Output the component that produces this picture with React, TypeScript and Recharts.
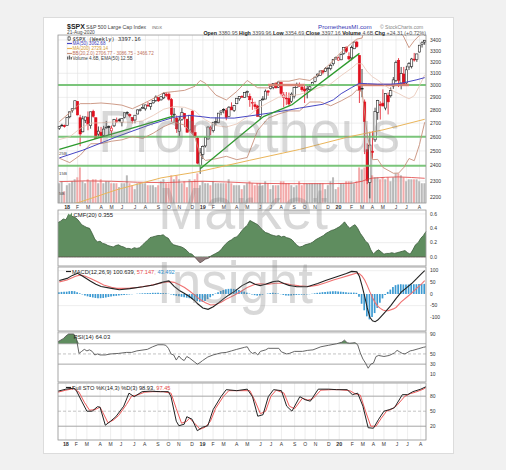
import React from 'react';
import { ComposedChart, Bar, Line, Area, XAxis, YAxis, CartesianGrid, ReferenceLine, Cell } from 'recharts';

// ---------------- DATA (weekly, 15-Dec-2017 .. 21-Aug-2020) ----------------
// [open, high, low, close]
const ohlc: number[][] = [
  [2660,2680,2650,2675],[2685,2695,2676,2683],[2683,2689,2667,2674],
  [2684,2743,2682,2743],[2748,2787,2737,2786],[2798,2810,2780,2810],[2809,2873,2808,2873],
  [2867,2870,2759,2762],[2741,2763,2533,2620],[2636,2755,2632,2732],[2722,2748,2701,2747],
  [2745,2789,2647,2691],[2681,2787,2659,2786],[2790,2802,2742,2752],[2741,2741,2585,2588],[2619,2675,2594,2641],
  [2633,2672,2553,2604],[2611,2680,2605,2656],[2670,2717,2660,2670],[2675,2683,2612,2670],
  [2643,2682,2594,2663],[2680,2732,2671,2728],[2718,2742,2702,2713],[2725,2736,2708,2721],
  [2705,2736,2676,2735],[2742,2779,2736,2779],[2781,2790,2761,2780],[2765,2774,2743,2755],[2742,2743,2698,2718],
  [2724,2761,2699,2760],[2769,2804,2768,2801],[2797,2814,2789,2802],[2811,2848,2809,2819],
  [2809,2841,2795,2840],[2838,2862,2825,2833],[2827,2855,2802,2850],[2856,2876,2850,2875],[2876,2916,2864,2902],
  [2898,2898,2864,2872],[2880,2908,2874,2905],[2896,2941,2886,2930],[2926,2940,2903,2914],
  [2926,2939,2874,2885],[2882,2894,2710,2767],[2763,2816,2710,2768],[2737,2758,2628,2658],
  [2640,2756,2603,2723],[2726,2815,2717,2781],[2773,2775,2670,2736],[2730,2730,2631,2633],[2649,2760,2649,2760],
  [2790,2800,2621,2633],[2630,2685,2593,2600],[2590,2601,2409,2417],[2400,2520,2346,2486],
  [2476,2538,2444,2532],[2535,2598,2524,2596],[2584,2675,2580,2671],[2657,2681,2612,2665],
  [2644,2708,2631,2707],[2712,2744,2681,2708],[2703,2776,2700,2776],[2780,2795,2760,2793],
  [2805,2814,2774,2804],[2795,2815,2722,2743],[2749,2830,2747,2822],[2823,2860,2800,2801],[2797,2836,2785,2834],
  [2849,2893,2848,2893],[2888,2910,2872,2907],[2908,2916,2898,2905],[2898,2940,2897,2940],
  [2940,2955,2901,2946],[2908,2931,2825,2881],[2859,2892,2801,2860],[2841,2865,2805,2826],[2830,2840,2750,2752],
  [2751,2874,2728,2873],[2886,2910,2873,2887],[2886,2964,2887,2950],[2952,2958,2913,2942],
  [2971,2996,2964,2990],[2980,3014,2966,3014],[3017,3018,2975,2977],[2981,3028,2977,3026],
  [3023,3027,2915,2932],[2898,2943,2822,2919],[2894,2943,2840,2889],[2891,2939,2834,2847],[2866,2940,2856,2926],
  [2910,2985,2891,2979],[2980,3021,2976,3007],[3001,3022,2988,2992],[2984,3002,2946,2962],
  [2967,2993,2855,2952],[2961,2993,2892,2970],[2966,3008,2953,2986],[2996,3027,2992,3023],
  [3032,3067,3023,3067],[3078,3097,3066,3093],[3081,3121,3078,3120],[3123,3128,3091,3110],[3117,3154,3114,3141],
  [3143,3150,3070,3146],[3141,3183,3125,3169],[3183,3226,3166,3221],[3225,3247,3223,3240],
  [3215,3247,3212,3235],[3218,3275,3215,3265],[3274,3330,3263,3330],[3333,3338,3280,3295],[3248,3285,3214,3226],
  [3235,3347,3214,3328],[3318,3385,3315,3380],[3380,3393,3328,3338],[3257,3260,2855,2954],
  [2974,3137,2901,2972],[2863,2883,2478,2711],[2508,2553,2280,2305],[2290,2637,2192,2541],
  [2498,2641,2447,2489],[2578,2818,2563,2790],[2782,2880,2725,2875],[2845,2868,2727,2837],
  [2854,2965,2831,2831],[2815,2931,2798,2930],[2915,2939,2766,2864],[2913,2981,2898,2955],[2992,3068,2969,3044],
  [3038,3211,3025,3194],[3213,3233,2984,3041],[3018,3155,2965,3098],[3094,3155,3003,3009],
  [3018,3165,3000,3130],[3155,3197,3128,3185],[3159,3235,3142,3225],[3224,3280,3202,3216],[3219,3272,3200,3271],
  [3288,3352,3284,3351],[3356,3387,3329,3373],[3380,3400,3355,3397],
];

// weekly volume (billions)
const volume: number[] = [
  10,11,6,
  9,10,11,12,13,18,11,10,12,11,12,12,10,12,10,11,11,10,10,10,8,10,10,14,10,9,7,10,10,10,10,9,9,9,8,9,11,12,10,10,14,12,14,12,10,11,8,12,11,12,15,9,
  11,10,10,9,11,10,10,10,10,10,12,10,9,9,9,7,9,10,11,10,9,10,10,9,11,10,7,9,9,9,11,11,10,10,9,8,9,11,9,10,10,10,10,10,10,10,10,7,9,11,13,7,
  8,10,10,11,11,11,10,11,18,17,18,19,16,14,13,13,12,13,12,13,11,13,15,15,14,13,11,12,12,12,12,11,10,10,
];

// [week index, value] readings of the overlay lines
const volEma: number[][] = [[0,10.8],[10,11.2],[20,11.0],[30,10.5],[40,10.3],[50,10.8],[55,11.0],[65,10.6],[75,10.0],[85,9.8],[95,9.8],[105,9.8],[112,10.0],[116,11.0],[118,12.0],[120,12.6],[125,13.0],[130,13.2],[135,12.9],[140,12.5]];
const ma50: number[][] = [[0,2452],[9,2505],[22,2600],[35,2690],[44,2745],[50,2758],[55,2748],[58,2740],[67,2738],[75,2760],[80,2775],[88,2800],[92,2815],[101,2845],[105,2880],[108,2930],[112,2980],[115,3015],[118,3012],[122,3008],[127,3008],[131,3015],[134,3030],[137,3045],[140,3063]];
const ma200: number[][] = [[0,2140],[8,2170],[22,2245],[39,2320],[54,2362],[73,2436],[92,2510],[111,2600],[124,2650],[140,2729]];
const bbUpper: number[][] = [[0,2710],[4,2780],[8,2850],[12,2850],[16,2855],[20,2848],[24,2838],[28,2810],[32,2848],[36,2890],[40,2938],[44,2947],[48,2957],[52,2991],[54,3039],[56,3015],[60,2918],[64,2879],[68,2948],[72,3039],[76,2978],[80,2977],[84,3033],[88,3033],[92,3053],[96,3039],[100,3103],[104,3189],[108,3288],[112,3370],[114,3408],[116,3418],[118,3614],[120,3700],[122,3642],[124,3628],[128,3550],[130,3511],[132,3428],[134,3328],[136,3393],[138,3444],[140,3467]];
const bbMid: number[][] = [[0,2580],[4,2600],[8,2660],[12,2700],[16,2703],[20,2708],[24,2708],[28,2706],[32,2718],[36,2758],[40,2806],[44,2827],[48,2821],[52,2793],[54,2755],[56,2725],[60,2682],[64,2671],[68,2694],[72,2747],[76,2812],[80,2857],[84,2901],[88,2913],[92,2923],[96,2951],[100,2983],[104,3011],[108,3080],[112,3144],[114,3184],[116,3182],[118,3114],[120,3070],[122,3042],[124,3008],[128,2950],[130,2931],[132,2908],[134,2888],[136,2913],[138,2994],[140,3087]];
const bbLower: number[][] = [[0,2450],[4,2420],[8,2470],[12,2550],[16,2551],[20,2568],[24,2578],[28,2602],[32,2588],[36,2626],[40,2674],[44,2707],[48,2685],[52,2595],[54,2471],[56,2435],[60,2446],[64,2463],[68,2440],[72,2455],[76,2646],[80,2737],[84,2769],[88,2793],[92,2793],[96,2863],[100,2863],[104,2833],[108,2872],[112,2918],[114,2960],[116,2946],[118,2614],[120,2440],[122,2442],[124,2388],[128,2350],[130,2351],[132,2388],[134,2448],[136,2433],[138,2544],[140,2707]];

const cmf: number[] = [
  0.48,0.50,0.53,0.52,0.585,0.57,0.56,0.54,0.50,0.45,0.43,0.41,0.40,0.33,0.25,0.21,0.22,0.19,0.18,0.16,
  0.15,0.14,0.16,0.17,0.15,0.14,0.12,0.12,0.11,0.13,0.12,0.13,0.16,0.20,0.23,0.27,0.28,0.29,0.30,0.30,
  0.31,0.28,0.26,0.20,0.17,0.16,0.15,0.14,0.12,0.09,0.05,0.04,0.00,-0.04,-0.08,-0.06,-0.03,-0.02,0.01,0.03,
  0.05,0.07,0.10,0.15,0.19,0.22,0.24,0.27,0.28,0.32,0.37,0.41,0.44,0.51,0.49,0.47,0.45,0.41,0.37,0.34,
  0.33,0.31,0.30,0.29,0.30,0.28,0.29,0.27,0.26,0.24,0.20,0.16,0.14,0.15,0.17,0.18,0.19,0.21,0.24,0.26,
  0.28,0.30,0.33,0.35,0.37,0.38,0.40,0.42,0.45,0.49,0.44,0.40,0.43,0.45,0.40,0.33,0.28,0.22,0.19,0.10,
  0.04,0.08,0.10,0.07,0.04,0.05,0.05,0.06,0.05,0.06,0.07,0.08,0.09,0.06,0.04,0.10,0.17,0.20,0.26,0.30,0.355,
];

const macdLine: number[][] = [[0,58],[3,67],[5,80],[7,89],[9,76],[12,55],[14,42],[16,32],[20,24],[23,18],[27,23],[32,31],[36,39],[40,52],[42,56],[44,33],[46,15],[48,2],[50,-12],[52,-30],[53,-42],[55,-60],[57,-66],[59,-55],[61,-38],[63,-20],[65,-4],[67,10],[70,36],[73,53],[75,42],[77,36],[79,42],[82,53],[84,56],[86,45],[88,37],[91,31],[95,31],[99,45],[102,58],[106,73],[110,88],[112,97],[114,95],[115,75],[116,35],[117,-10],[118,-60],[119,-100],[120,-115],[121,-119],[122,-112],[123,-100],[125,-76],[127,-50],[129,-20],[131,8],[133,26],[135,45],[137,67],[139,90],[140,100.6]];
const macdSignal: number[][] = [[0,52],[3,60],[6,75],[8,82],[10,76],[12,67],[15,50],[17,39],[20,29],[22,24],[26,24],[30,28],[35,37],[39,47],[42,53],[44,50],[46,40],[48,28],[50,12],[52,-6],[54,-24],[56,-38],[58,-47],[60,-45],[62,-35],[64,-22],[67,-5],[70,14],[72,28],[75,42],[77,44],[80,42],[83,46],[86,46],[89,40],[92,35],[96,32],[99,38],[102,48],[105,60],[108,70],[111,80],[114,90],[115,87],[116,77],[117,60],[118,36],[119,9],[120,-16],[121,-37],[122,-52],[123,-62],[124,-69],[125,-72],[126,-72],[128,-64],[129,-58],[131,-34],[133,-15],[135,4],[137,25],[139,46],[140,57.1]];
const macdHist: number[] = [
  8,9,10,10,12,13,12,8,3,-2,
  -6,-10,-13,-15,-17,-18,-18,-17,-15,-13,
  -11,-9,-8,-6,-5,-4,-3,-2,-1,0,
  1,2,3,3,4,4,5,5,5,4,
  4,3,1,-2,-5,-8,-10,-12,-14,-16,
  -18,-22,-26,-30,-33,-34,-30,-22,-14,-6,
  2,8,13,17,20,22,23,22,20,17,
  14,10,6,2,-2,-5,-7,-6,-3,0,
  2,4,5,4,2,-1,-4,-6,-7,-6,
  -5,-4,-3,-3,-3,-2,-1,1,3,5,
  6,8,9,10,11,12,12,11,10,9,
  8,6,6,6,5,-12,-42,-70,-96,-109,
  -99,-82,-60,-38,-19,-4,9,19,30,38,
  41,42,41,41,41,41,42,42,43,43,
  43.5,
];

const rsi: number[][] = [[0,74],[2,80],[3,85],[4,89],[6,89],[7,80],[8,51],[9,55],[10,59],[11,56],[12,58],[13,55],[14,48],[15,50],[16,48],[18,48],[20,50],[23,51],[26,53],[28,53],[30,56],[34,59],[36,64],[38,68],[40,68],[41,67],[42,61],[43,50],[44,48],[45,38],[46,46],[47,40],[48,37],[49,45],[50,42],[51,38],[52,34],[53,30],[54,33],[55,37],[57,44],[59,48],[62,52],[64,53],[66,56],[68,59],[71,63],[72,64],[73,55],[74,51],[75,53],[76,48],[77,55],[79,58],[80,61],[84,61],[85,54],[86,52],[87,50],[88,51],[90,55],[93,55],[95,57],[97,58],[100,64],[103,67],[106,70],[108,73],[109,77],[110,72],[111,71],[113,72],[114,68],[115,52],[116,40],[117,32],[118,22],[119,30],[120,32],[121,45],[122,47],[124,45],[126,47],[128,52],[129,57],[130,54],[131,51],[132,50],[134,56],[135,57],[137,60],[139,63],[140,64.03]];
const stoK: number[][] = [[0,90],[3,94],[6,96],[7,91],[9,70],[11,50],[13,50],[15,59],[16,58],[18,22],[20,30],[22,39],[25,60],[27,86],[29,79],[32,89],[35,90],[39,89],[42,89],[43,79],[45,30],[46,21],[48,24],[49,39],[51,34],[53,11],[55,18],[57,21],[59,53],[62,79],[64,93],[68,91],[72,94],[74,79],[76,40],[78,43],[80,79],[82,93],[85,91],[87,60],[89,50],[92,79],[94,73],[96,70],[99,94],[103,94],[106,93],[110,93],[112,83],[114,86],[116,60],[118,17],[120,16],[122,34],[124,50],[126,53],[128,57],[131,83],[133,83],[135,89],[138,94],[140,98.93]];
const stoD: number[][] = [[0,88],[3,92],[6,95],[8,88],[10,68],[12,52],[14,53],[16,58],[17,48],[19,27],[21,32],[23,41],[26,63],[28,80],[30,82],[33,88],[36,89],[40,89],[43,86],[45,55],[47,26],[49,30],[50,36],[52,26],[54,14],[56,18],[58,30],[60,56],[63,80],[65,91],[69,91],[73,91],[75,70],[77,45],[79,50],[81,80],[83,92],[86,86],[88,60],[90,55],[93,76],[95,72],[97,75],[100,92],[104,93],[107,93],[111,91],[113,85],[115,82],[117,50],[119,20],[121,20],[123,36],[125,50],[127,54],[129,62],[132,80],[134,85],[136,88],[139,94],[140,97.45]];

const monthTicks = [3,7,11,16,20,24,29,33,38,42,46,51,55,59,63,68,72,77,81,85,90,94,98,103,107,112,116,120,124,129,133,138];
const monthLabels = ['18','F','M','A','M','J','J','A','S','O','N','D','19','F','M','A','M','J','J','A','S','O','N','D','20','F','M','A','M','J','J','A'];
const priceTicks = [2200,2300,2400,2500,2600,2700,2800,2900,3000,3100,3200,3300,3400];
const volTicks = [5,10,15,20,25];
const cmfTicks = [-0.1,0,0.1,0.2,0.3,0.4,0.5,0.6];
const macdTicks = [-100,-50,0,50,100];
const rsiTicks = [10,30,50,70,90];
const stoTicks = [20,50,80];
const supportLevels = [2400, 2600, 3000];
const trendLines: number[][][] = [[[0,2510],[44,2755]],[[54,2380],[78,2747]],[[78,2747],[89,2840]],[[89,2840],[115,3276]]];
const resistanceSegs: number[][][] = [[[80,3000],[94,3000]],[[114,3000],[134,3000]]];

// ---------------- LAYOUT ----------------
const W = 506, H = 470;
const PL = 58;          // plot left
const MR = 58;          // right margin (plus 22px axis -> plot right 426)
const FONT = "'Liberation Sans', Arial, sans-serif";

function buildRows() {
  const rows: any[] = ohlc.map(([o, h, l, c], i) => ({
    i, open: o, high: h, low: l, close: c, prev: i > 0 ? ohlc[i - 1][3] : o,
    range: [l, h], vol: volume[i],
    cmfPos: Math.max(cmf[i], 0), cmfNeg: Math.min(cmf[i], 0), hist: macdHist[i],
  }));
  const put = (pts: number[][], key: string) => pts.forEach(([i, v]) => { rows[i][key] = v; });
  put(volEma, 'volEma'); put(ma50, 'ma50'); put(ma200, 'ma200');
  put(bbUpper, 'bbU'); put(bbMid, 'bbM'); put(bbLower, 'bbL');
  put(macdLine, 'macd'); put(macdSignal, 'sig');
  put(stoK, 'k'); put(stoD, 'd');
  rsi.forEach(([i, v]) => { rows[i].rsi = v; rows[i].rsiHi = Math.max(v, 70); });
  return rows;
}

const Candle = (props: any) => {
  const { x, y, width, height, payload } = props;
  if (!payload || x == null || y == null) return null;
  const { open, high, low, close, prev } = payload;
  const top = Math.min(y, y + height), bot = Math.max(y, y + height);
  const lh = Math.log(high), ll = Math.log(low);
  const pos = (v: number) => (lh === ll ? top : top + ((lh - Math.log(v)) / (lh - ll)) * (bot - top));
  const cx = x + width / 2;
  const color = close >= prev ? '#1e1e1e' : '#e0101e';
  const yo = pos(open), yc = pos(close);
  const bt = Math.min(yo, yc);
  const bh = Math.max(Math.abs(yc - yo), 0.8);
  const hollow = close >= open;
  const bw = 2.3;
  return (
    <g>
      <line x1={cx} x2={cx} y1={top} y2={bot} stroke={color} strokeWidth={0.8} />
      <rect x={cx - bw / 2} y={bt} width={bw} height={bh} fill={hollow ? '#ffffff' : color} stroke={color} strokeWidth={0.6} />
    </g>
  );
};

const MonthTick = (props: any) => {
  const { x, y, payload } = props;
  const k = monthTicks.indexOf(payload.value);
  const lab = k >= 0 ? monthLabels[k] : '';
  const yr = lab.length === 2;
  return (
    <text x={x} y={y + 5.5} textAnchor="middle" fontSize={yr ? 5.4 : 5} fontWeight={yr ? 700 : 400} fill="#333" fontFamily={FONT}>{lab}</text>
  );
};

const axisTick = { fontSize: 5, fill: '#333', fontFamily: FONT };
const gridProps = { stroke: '#e3e3e3', strokeWidth: 0.6 };

function PriceChart({ rows }: { rows: any[] }) {
  return (
    <ComposedChart width={W} height={177} data={rows} margin={{ top: 0, right: MR, bottom: 0, left: PL }}>
      <CartesianGrid {...gridProps} />
      <XAxis dataKey="i" type="category" ticks={monthTicks} interval={0} tick={<MonthTick />} tickLine={false} axisLine={false} height={9} tickSize={0} tickMargin={0} />
      <XAxis xAxisId="vx" dataKey="i" type="category" hide />
      <YAxis orientation="right" scale="log" domain={[2164, 3447]} allowDataOverflow ticks={priceTicks} width={22} tickLine={false} axisLine={false} tickSize={0} tickMargin={4} tick={axisTick} />
      <YAxis yAxisId="vol" orientation="left" mirror domain={[0, 85]} ticks={volTicks} tickFormatter={(v: number) => v + 'B'} tickLine={false} axisLine={false} tickSize={0} tickMargin={1} tick={{ fontSize: 4.4, fill: '#444', fontFamily: FONT }} />
      <Bar xAxisId="vx" yAxisId="vol" dataKey="vol" barSize={2} isAnimationActive={false}>
        {rows.map((r) => (
          <Cell key={r.i} fill={r.close >= r.prev ? '#b9b9b9' : '#f3aaaa'} />
        ))}
      </Bar>
      <Line xAxisId="vx" yAxisId="vol" dataKey="volEma" stroke="#e04040" strokeWidth={0.8} dot={false} activeDot={false} connectNulls isAnimationActive={false} />
      {supportLevels.map((v) => (
        <ReferenceLine key={'s' + v} y={v} stroke="#6dbf6d" strokeWidth={2} strokeOpacity={0.9} />
      ))}
      {resistanceSegs.map((s, k) => (
        <ReferenceLine key={'r' + k} segment={[{ x: s[0][0], y: s[0][1] }, { x: s[1][0], y: s[1][1] }]} stroke="#f07070" strokeWidth={2.5} strokeOpacity={0.75} />
      ))}
      <Line dataKey="bbM" stroke="#e8c4b4" strokeWidth={0.8} dot={false} activeDot={false} connectNulls isAnimationActive={false} />
      <Line dataKey="bbU" stroke="#c8917c" strokeWidth={0.9} dot={false} activeDot={false} connectNulls isAnimationActive={false} />
      <Line dataKey="bbL" stroke="#c8917c" strokeWidth={0.9} dot={false} activeDot={false} connectNulls isAnimationActive={false} />
      <Line dataKey="ma200" stroke="#eab55a" strokeWidth={1} dot={false} activeDot={false} connectNulls isAnimationActive={false} />
      <Line dataKey="ma50" stroke="#4646c4" strokeWidth={1} dot={false} activeDot={false} connectNulls isAnimationActive={false} />
      <Bar dataKey="range" shape={<Candle />} isAnimationActive={false} />
      {trendLines.map((s, k) => (
        <ReferenceLine key={'t' + k} segment={[{ x: s[0][0], y: s[0][1] }, { x: s[1][0], y: s[1][1] }]} stroke="#2c9a2c" strokeWidth={1.3} />
      ))}
    </ComposedChart>
  );
}

function CmfChart({ rows }: { rows: any[] }) {
  return (
    <ComposedChart width={W} height={56} data={rows} margin={{ top: 0, right: MR, bottom: 0, left: PL }}>
      <CartesianGrid {...gridProps} />
      <XAxis dataKey="i" type="category" ticks={monthTicks} interval={0} tick={false} tickLine={false} axisLine={false} height={0} />
      <YAxis orientation="right" width={22} tickLine={false} axisLine={false} tickSize={0} tickMargin={4} tick={axisTick} allowDataOverflow domain={[-0.125, 0.655]} ticks={cmfTicks} tickFormatter={(v: number) => v.toFixed(1)} />
      <Area dataKey="cmfPos" type="linear" baseValue={0} fill="#5f8d5f" fillOpacity={1} stroke="#3b5d3b" strokeWidth={0.8} dot={false} activeDot={false} isAnimationActive={false} />
      <Area dataKey="cmfNeg" type="linear" baseValue={0} fill="#8f7c7c" fillOpacity={1} stroke="#5a4848" strokeWidth={0.8} dot={false} activeDot={false} isAnimationActive={false} />
    </ComposedChart>
  );
}

function MacdChart({ rows }: { rows: any[] }) {
  return (
    <ComposedChart width={W} height={64} data={rows} margin={{ top: 0, right: MR, bottom: 0, left: PL }}>
      <CartesianGrid {...gridProps} />
      <XAxis dataKey="i" type="category" ticks={monthTicks} interval={0} tick={false} tickLine={false} axisLine={false} height={0} />
      <YAxis orientation="right" width={22} tickLine={false} axisLine={false} tickSize={0} tickMargin={4} tick={axisTick} allowDataOverflow domain={[-159, 116]} ticks={macdTicks} />
      <Bar dataKey="hist" fill="#3c9ad2" barSize={1.7} isAnimationActive={false} />
      <Line dataKey="sig" stroke="#f07272" strokeWidth={1.1} dot={false} activeDot={false} connectNulls isAnimationActive={false} />
      <Line dataKey="macd" stroke="#222222" strokeWidth={1.1} dot={false} activeDot={false} connectNulls isAnimationActive={false} />
    </ComposedChart>
  );
}

function RsiChart({ rows }: { rows: any[] }) {
  return (
    <ComposedChart width={W} height={50} data={rows} margin={{ top: 0, right: MR, bottom: 0, left: PL }}>
      <CartesianGrid {...gridProps} />
      <XAxis dataKey="i" type="category" ticks={monthTicks} interval={0} tick={false} tickLine={false} axisLine={false} height={0} />
      <YAxis orientation="right" width={22} tickLine={false} axisLine={false} tickSize={0} tickMargin={4} tick={axisTick} allowDataOverflow domain={[-5, 93]} ticks={rsiTicks} />
      <ReferenceLine y={70} stroke="#9a9a9a" strokeWidth={0.8} />
      <ReferenceLine y={30} stroke="#9a9a9a" strokeWidth={0.8} />
      <ReferenceLine y={50} stroke="#aaaaaa" strokeWidth={0.7} strokeDasharray="3 2" />
      <Area dataKey="rsiHi" type="linear" baseValue={70} fill="#5f8d5f" fillOpacity={1} stroke="none" connectNulls dot={false} activeDot={false} isAnimationActive={false} />
      <Line dataKey="rsi" stroke="#555555" strokeWidth={0.9} dot={false} activeDot={false} connectNulls isAnimationActive={false} />
    </ComposedChart>
  );
}

function StoChart({ rows }: { rows: any[] }) {
  return (
    <ComposedChart width={W} height={66} data={rows} margin={{ top: 0, right: MR, bottom: 0, left: PL }}>
      <CartesianGrid {...gridProps} />
      <XAxis dataKey="i" type="category" ticks={monthTicks} interval={0} tick={<MonthTick />} tickLine={false} axisLine={false} height={9} tickSize={0} tickMargin={0} />
      <YAxis orientation="right" width={22} tickLine={false} axisLine={false} tickSize={0} tickMargin={4} tick={axisTick} allowDataOverflow domain={[-7.5, 106.3]} ticks={stoTicks} />
      <ReferenceLine y={80} stroke="#9a9a9a" strokeWidth={0.8} />
      <ReferenceLine y={20} stroke="#9a9a9a" strokeWidth={0.8} />
      <ReferenceLine y={50} stroke="#aaaaaa" strokeWidth={0.7} strokeDasharray="3 2" />
      <Line dataKey="d" stroke="#ee5a5a" strokeWidth={1} dot={false} activeDot={false} connectNulls isAnimationActive={false} />
      <Line dataKey="k" stroke="#222222" strokeWidth={1} dot={false} activeDot={false} connectNulls isAnimationActive={false} />
    </ComposedChart>
  );
}

function Overlay() {
  const panels = [[35, 168], [210, 56], [267, 64], [332, 50], [383, 57]];
  const t = { fontFamily: FONT };
  return (
    <svg width={W} height={H} style={{ position: 'absolute', left: 0, top: 0, pointerEvents: 'none' }}>
      {panels.map(([y, h], k) => (
        <rect key={k} x={PL} y={y} width={368} height={h} fill="none" stroke="#9c9c9c" strokeWidth={0.8} />
      ))}
      {/* watermark (drawn beneath the labels) */}
      <g fill="rgba(125,125,125,0.3)" fontFamily={FONT}>
        <text x={98} y={152} fontSize={60} textLength={302} lengthAdjust="spacingAndGlyphs">Prometheus</text>
        <text x={158} y={229} fontSize={60} textLength={170} lengthAdjust="spacingAndGlyphs">Market</text>
        <text x={157} y={303} fontSize={60} textLength={156} lengthAdjust="spacingAndGlyphs">Insight</text>
      </g>
      {/* header */}
      <text x={67} y={28.5} fontSize={7} fontWeight={700} fill="#222" {...t}>$SPX</text>
      <text x={86} y={28.5} fontSize={5.2} fill="#444" {...t}>S&amp;P 500 Large Cap Index</text>
      <text x={152} y={28.5} fontSize={4.2} fill="#666" {...t}>INDX</text>
      <text x={67} y={34.2} fontSize={4.8} fill="#444" {...t}>21-Aug-2020</text>
      <text x={318} y={29} fontSize={6.2} fill="#3636b4" {...t}>PrometheusMI.com</text>
      <text x={380} y={29} fontSize={5} fill="#888" {...t}>© StockCharts.com</text>
      <text x={426} y={35.3} fontSize={5.3} fill="#555" textAnchor="end" {...t}>
        <tspan fontWeight={700} fill="#222">Open</tspan> 3380.95 <tspan fontWeight={700} fill="#222">High</tspan> 3399.96 <tspan fontWeight={700} fill="#222">Low</tspan> 3354.69 <tspan fontWeight={700} fill="#222">Close</tspan> 3397.16 <tspan fontWeight={700} fill="#222">Volume</tspan> 4.6B <tspan fontWeight={700} fill="#222">Chg</tspan> +24.31 (+0.72%)
      </text>
      {/* price legend */}
      <line x1={69} x2={69} y1={36} y2={41} stroke="#222" strokeWidth={0.6} />
      <rect x={68} y={37} width={2.2} height={3} fill="#fff" stroke="#222" strokeWidth={0.6} />
      <text x={72.5} y={40.5} fontSize={5.4} fill="#222" fontFamily="'DejaVu Sans Mono', monospace">$SPX (Weekly) 3397.16</text>
      <line x1={67} x2={72} y1={43.5} y2={43.5} stroke="#4646c4" strokeWidth={1.2} />
      <text x={72.5} y={45.3} fontSize={4.6} fill="#3b3bb8" {...t}>MA(50) 3062.68</text>
      <line x1={67} x2={72} y1={48.5} y2={48.5} stroke="#eab55a" strokeWidth={1.2} />
      <text x={72.5} y={50.3} fontSize={4.6} fill="#d49a2c" {...t}>MA(200) 2729.14</text>
      <line x1={67} x2={72} y1={53.5} y2={53.5} stroke="#c8917c" strokeWidth={1.2} />
      <text x={72.5} y={55.3} fontSize={4.6} fill="#c0705a" {...t}>BB(20,2.0) 2706.77 - 3086.75 - 3466.72</text>
      <rect x={67} y={56.5} width={1.3} height={3} fill="#666" />
      <rect x={68.8} y={55.5} width={1.3} height={4} fill="#666" />
      <rect x={70.6} y={57} width={1.3} height={2.5} fill="#666" />
      <text x={72.5} y={60.3} fontSize={4.6} fill="#444" {...t}>Volume 4.6B, EMA(50) 12.5B</text>
      {/* indicator labels */}
      <polygon points="67,217 68.5,213.5 70,215 72,212.5 72,217" fill="#5f8d5f" />
      <text x={73.5} y={217} fontSize={5.9} fill="#222" {...t}>CMF(20) 0.355</text>
      <line x1={66} x2={71} y1={271.5} y2={271.5} stroke="#222" strokeWidth={1.2} />
      <text x={72} y={273.6} fontSize={5.7} fill="#222" {...t}>
        MACD(12,26,9) 100.639, <tspan fill="#e84c4c">57.147,</tspan> <tspan fill="#2f8fcc">43.492</tspan>
      </text>
      <polygon points="67,339 68.5,335.5 70,337 72,334.5 72,339" fill="#5f8d5f" />
      <text x={73.5} y={339} fontSize={5.9} fill="#222" {...t}>RSI(14) 64.03</text>
      <line x1={66} x2={71} y1={387.5} y2={387.5} stroke="#222" strokeWidth={1.2} />
      <text x={72} y={389.5} fontSize={5.7} fill="#222" {...t}>
        Full STO %K(14,3) %D(3) 98.93, <tspan fill="#e84c4c">97.45</tspan>
      </text>
    </svg>
  );
}

export default function App() {
  const rows = React.useMemo(buildRows, []);
  return (
    <div style={{ position: 'absolute', left: 0, top: 0, width: W, height: H, background: '#f1f1f1', overflow: 'hidden' }}>
      <div style={{ position: 'absolute', left: 43, top: 17, width: 409, height: 435, background: '#ffffff', border: '1px solid #dcdcdc' }} />
      <div style={{ position: 'absolute', left: 0, top: 35 }}><PriceChart rows={rows} /></div>
      <div style={{ position: 'absolute', left: 0, top: 210 }}><CmfChart rows={rows} /></div>
      <div style={{ position: 'absolute', left: 0, top: 267 }}><MacdChart rows={rows} /></div>
      <div style={{ position: 'absolute', left: 0, top: 332 }}><RsiChart rows={rows} /></div>
      <div style={{ position: 'absolute', left: 0, top: 383 }}><StoChart rows={rows} /></div>
      <Overlay />
    </div>
  );
}
